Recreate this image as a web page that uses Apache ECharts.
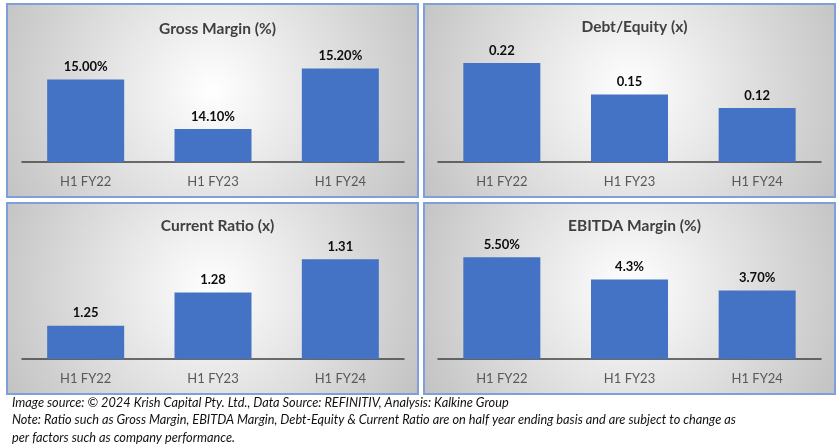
<!DOCTYPE html>
<html>
<head>
<meta charset="utf-8">
<script src="https://cdn.jsdelivr.net/npm/echarts@6/dist/echarts.min.js"></script>
<style>
html,body{margin:0;padding:0;background:#fff;}
#c{width:836px;height:446px;}
</style>
</head>
<body>
<div id="c"></div>
<script>
const categories = ['H1 FY22', 'H1 FY23', 'H1 FY24'];

const grossMargin = [15.0, 14.1, 15.2];
const grossMarginLabels = ['15.00%', '14.10%', '15.20%'];

const debtEquity = [0.22, 0.15, 0.12];
const debtEquityLabels = ['0.22', '0.15', '0.12'];

const currentRatio = [1.25, 1.28, 1.31];
const currentRatioLabels = ['1.25', '1.28', '1.31'];

const ebitdaMargin = [5.5, 4.3, 3.7];
const ebitdaMarginLabels = ['5.50%', '4.3%', '3.70%'];

const titles = ['Gross Margin (%)', 'Debt/Equity (x)', 'Current Ratio (x)', 'EBITDA Margin (%)'];
const footerLines = [
  'Image source: \u00a9 2024 Krish Capital Pty. Ltd., Data Source: REFINITIV, Analysis: Kalkine Group',
  'Note: Ratio such as Gross Margin, EBITDA Margin, Debt-Equity & Current Ratio are on half year ending basis and are subject to change as',
  'per factors such as company performance.'
];

const FONT = 'Lato, "Open Sans", sans-serif';
const chart = echarts.init(document.getElementById('c'));

const panels = [
  {x: 7, y: 4, w: 411, h: 193},
  {x: 424, y: 4, w: 411, h: 193},
  {x: 7, y: 203, w: 411, h: 191},
  {x: 424, y: 203, w: 411, h: 191}
];
// grid settings: left, width, axis y, top
const grids = [
  {left: 22, width: 382, top: 24.5, axisY: 162},
  {left: 438, width: 383, top: 27, axisY: 162},
  {left: 22, width: 382, top: 226, axisY: 359},
  {left: 438, width: 383, top: 229.5, axisY: 359}
];
const yRanges = [
  {min: 13.5, max: 16},
  {min: 0, max: 0.3},
  {min: 1.22, max: 1.34},
  {min: 0, max: 7}
];
const dataSets = [grossMargin, debtEquity, currentRatio, ebitdaMargin];
const labelSets = [grossMarginLabels, debtEquityLabels, currentRatioLabels, ebitdaMarginLabels];
const titleY = [16, 14, 213, 213];

const graphic = [];
panels.forEach(p => {
  graphic.push({
    type: 'rect', z: -10,
    shape: {x: p.x, y: p.y, width: p.w, height: p.h},
    style: {
      fill: new echarts.graphic.RadialGradient(0.5, 0.45, 1.2, [
        {offset: 0, color: '#ffffff'},
        {offset: 1, color: '#c2c2c2'}
      ]),
      stroke: '#7f9fdb', lineWidth: 2
    }
  });
});
footerLines.forEach((t, i) => {
  graphic.push({
    type: 'text', left: 12, top: 396 + i * 17.5,
    style: {text: t, fill: '#111', font: 'italic 12.75px ' + FONT}
  });
});

const option = {
  animation: false,
  title: titles.map((t, i) => ({
    text: t,
    left: panels[i].x + panels[i].w / 2,
    top: titleY[i],
    textAlign: 'center',
    textStyle: {fontFamily: FONT, fontWeight: 'bold', fontSize: 15.5, color: '#404040'}
  })),
  graphic: graphic,
  grid: grids.map(g => ({left: g.left, width: g.width, top: g.top, height: g.axisY - g.top})),
  xAxis: grids.map((g, i) => ({
    type: 'category', gridIndex: i, data: categories,
    axisLine: {lineStyle: {color: '#404040', width: 1.5}},
    axisTick: {show: false},
    axisLabel: {color: '#595959', fontSize: 13, fontFamily: FONT, margin: 13}
  })),
  yAxis: yRanges.map((r, i) => ({
    type: 'value', gridIndex: i, min: r.min, max: r.max, show: false,
    splitLine: {show: false}
  })),
  series: dataSets.map((d, i) => ({
    type: 'bar', xAxisIndex: i, yAxisIndex: i, data: d, barWidth: 77,
    itemStyle: {color: '#4472c4'},
    label: {
      show: true, position: 'top', distance: 6,
      fontFamily: FONT, fontWeight: 'bold', fontSize: 13, color: '#0d0d0d',
      formatter: p => labelSets[i][p.dataIndex]
    }
  }))
};
chart.setOption(option);
</script>
</body>
</html>
